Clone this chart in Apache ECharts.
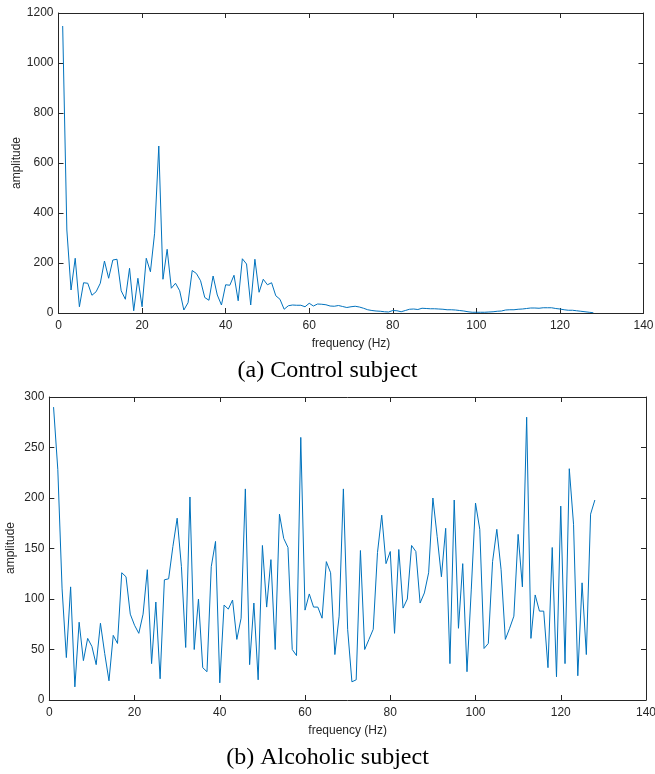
<!DOCTYPE html>
<html>
<head>
<meta charset="utf-8">
<script src="https://cdn.jsdelivr.net/npm/echarts@6/dist/echarts.min.js"></script>
<style>html,body{margin:0;padding:0;background:#fff}#c{width:655px;height:774px}</style>
</head>
<body>
<div id="c"></div>
<script>
var frequencies = [];
for (var i = 1; i <= 128; i++) frequencies.push(i);

var controlAmplitude = [
 1148, 332, 92, 219, 25, 121, 119, 71, 85, 119,
 208, 139, 212, 215, 89, 55, 179, 9, 139, 25,
 219, 165, 319, 668, 135, 255, 99, 119, 89, 12,
 41, 170, 158, 129, 62, 51, 148, 72, 32, 113,
 111, 151, 49, 217, 196, 32, 215, 83, 135, 113,
 121, 69, 55, 15, 29, 32, 31, 31, 25, 39,
 28, 36, 35, 33, 28, 27, 30, 26, 22, 25,
 27, 24, 19, 13, 10, 8, 7, 5, 4, 10,
 9, 5, 10, 15, 16, 14, 19, 18, 17, 17,
 16, 15, 13, 13, 12, 10, 8, 5, 3, 3,
 3, 3, 4, 5, 7, 8, 12, 13, 13, 15,
 16, 18, 20, 20, 19, 21, 21, 21, 18, 16,
 13, 11, 11, 9, 7, 5, 3, 1
];

var alcoholicAmplitude = [
 290, 228, 110, 42, 112, 13, 77, 39, 61, 53,
 35, 76, 46, 19, 64, 56, 126, 122, 85, 74,
 66, 85, 129, 36, 97, 21, 119, 120, 152, 180,
 132, 52, 201, 50, 100, 32, 28, 132, 157, 17,
 94, 90, 99, 60, 81, 209, 35, 96, 20, 153,
 92, 139, 50, 184, 160, 151, 50, 44, 260, 89,
 105, 92, 92, 81, 137, 126, 45, 83, 209, 70,
 18, 20, 148, 50, 60, 70, 146, 183, 135, 147,
 66, 149, 91, 100, 153, 147, 96, 106, 126, 200,
 162, 122, 170, 36, 198, 71, 135, 28, 109, 195,
 169, 51, 56, 137, 169, 129, 60, 71, 83, 164,
 112, 280, 61, 104, 88, 88, 32, 151, 23, 192,
 36, 229, 174, 24, 116, 45, 184, 198
];

var xTicks = [0, 20, 40, 60, 80, 100, 120, 140];
var topYTicks = [0, 200, 400, 600, 800, 1000, 1200];
var bottomYTicks = [0, 50, 100, 150, 200, 250, 300];

var axisColor = '#262626';
var fontFam = 'Liberation Sans, Arial, sans-serif';
function plain(v) { return String(v); }

function pairs(vals) {
  return frequencies.map(function (f, i) { return [f, vals[i]]; });
}

function mainX(gi, name, gap) {
  return {
    gridIndex: gi, type: 'value', min: xTicks[0], max: xTicks[xTicks.length - 1],
    interval: xTicks[1] - xTicks[0], position: 'bottom',
    name: name, nameLocation: 'middle', nameGap: gap,
    nameTextStyle: { color: axisColor, fontSize: 12, fontFamily: fontFam },
    axisLine: { show: true, onZero: false, lineStyle: { color: axisColor, width: 1 } },
    axisTick: { show: true, inside: true, length: 5, lineStyle: { color: axisColor } },
    axisLabel: { color: axisColor, fontSize: 12, fontFamily: fontFam, margin: 7, formatter: plain },
    splitLine: { show: false }
  };
}
function secX(gi) {
  return {
    gridIndex: gi, type: 'value', min: xTicks[0], max: xTicks[xTicks.length - 1],
    interval: xTicks[1] - xTicks[0], position: 'top',
    axisLine: { show: true, onZero: false, lineStyle: { color: axisColor, width: 1 } },
    axisTick: { show: true, inside: true, length: 5, lineStyle: { color: axisColor } },
    axisLabel: { show: false }, splitLine: { show: false }
  };
}
function mainY(gi, ticks) {
  return {
    gridIndex: gi, type: 'value', min: ticks[0], max: ticks[ticks.length - 1],
    interval: ticks[1] - ticks[0], position: 'left',
    axisLine: { show: true, onZero: false, lineStyle: { color: axisColor, width: 1 } },
    axisTick: { show: true, inside: true, length: 5, lineStyle: { color: axisColor } },
    axisLabel: { color: axisColor, fontSize: 12, fontFamily: fontFam, margin: 5, formatter: plain },
    splitLine: { show: false }
  };
}
function secY(gi, ticks) {
  return {
    gridIndex: gi, type: 'value', min: ticks[0], max: ticks[ticks.length - 1],
    interval: ticks[1] - ticks[0], position: 'right',
    axisLine: { show: true, onZero: false, lineStyle: { color: axisColor, width: 1 } },
    axisTick: { show: true, inside: true, length: 5, lineStyle: { color: axisColor } },
    axisLabel: { show: false }, splitLine: { show: false }
  };
}

var chart = echarts.init(document.getElementById('c'), null, { renderer: 'canvas' });
chart.setOption({
  backgroundColor: '#ffffff',
  animation: false,
  grid: [
    { left: 58.5, right: 11.5, top: 13, height: 300, containLabel: false, outerBoundsMode: 'none' },
    { left: 49.3, right: 9, top: 397, height: 303, containLabel: false, outerBoundsMode: 'none' }
  ],
  xAxis: [mainX(0, 'frequency (Hz)', 25), secX(0), mainX(1, 'frequency (Hz)', 25), secX(1)],
  yAxis: [mainY(0, topYTicks), secY(0, topYTicks), mainY(1, bottomYTicks), secY(1, bottomYTicks)],
  series: [
    { type: 'line', xAxisIndex: 0, yAxisIndex: 0, data: pairs(controlAmplitude),
      showSymbol: false, symbol: 'none', lineStyle: { color: '#0072BD', width: 1 } },
    { type: 'line', xAxisIndex: 2, yAxisIndex: 2, data: pairs(alcoholicAmplitude),
      showSymbol: false, symbol: 'none', lineStyle: { color: '#0072BD', width: 1 } }
  ],
  graphic: [
    { type: 'text', x: 17, y: 163, rotation: Math.PI / 2,
      style: { text: 'amplitude', fill: axisColor, fontSize: 12, fontFamily: fontFam,
               align: 'center', verticalAlign: 'middle' } },
    { type: 'text', x: 11, y: 548, rotation: Math.PI / 2,
      style: { text: 'amplitude', fill: axisColor, fontSize: 12, fontFamily: fontFam,
               align: 'center', verticalAlign: 'middle' } },
    { type: 'text', left: 'center', top: 359,
      style: { text: '(a) Control subject', fill: '#000', fontSize: 24,
               fontFamily: 'Liberation Serif, Times New Roman, serif' } },
    { type: 'text', left: 'center', top: 746,
      style: { text: '(b) Alcoholic subject', fill: '#000', fontSize: 24,
               fontFamily: 'Liberation Serif, Times New Roman, serif' } }
  ]
});
</script>
</body>
</html>
